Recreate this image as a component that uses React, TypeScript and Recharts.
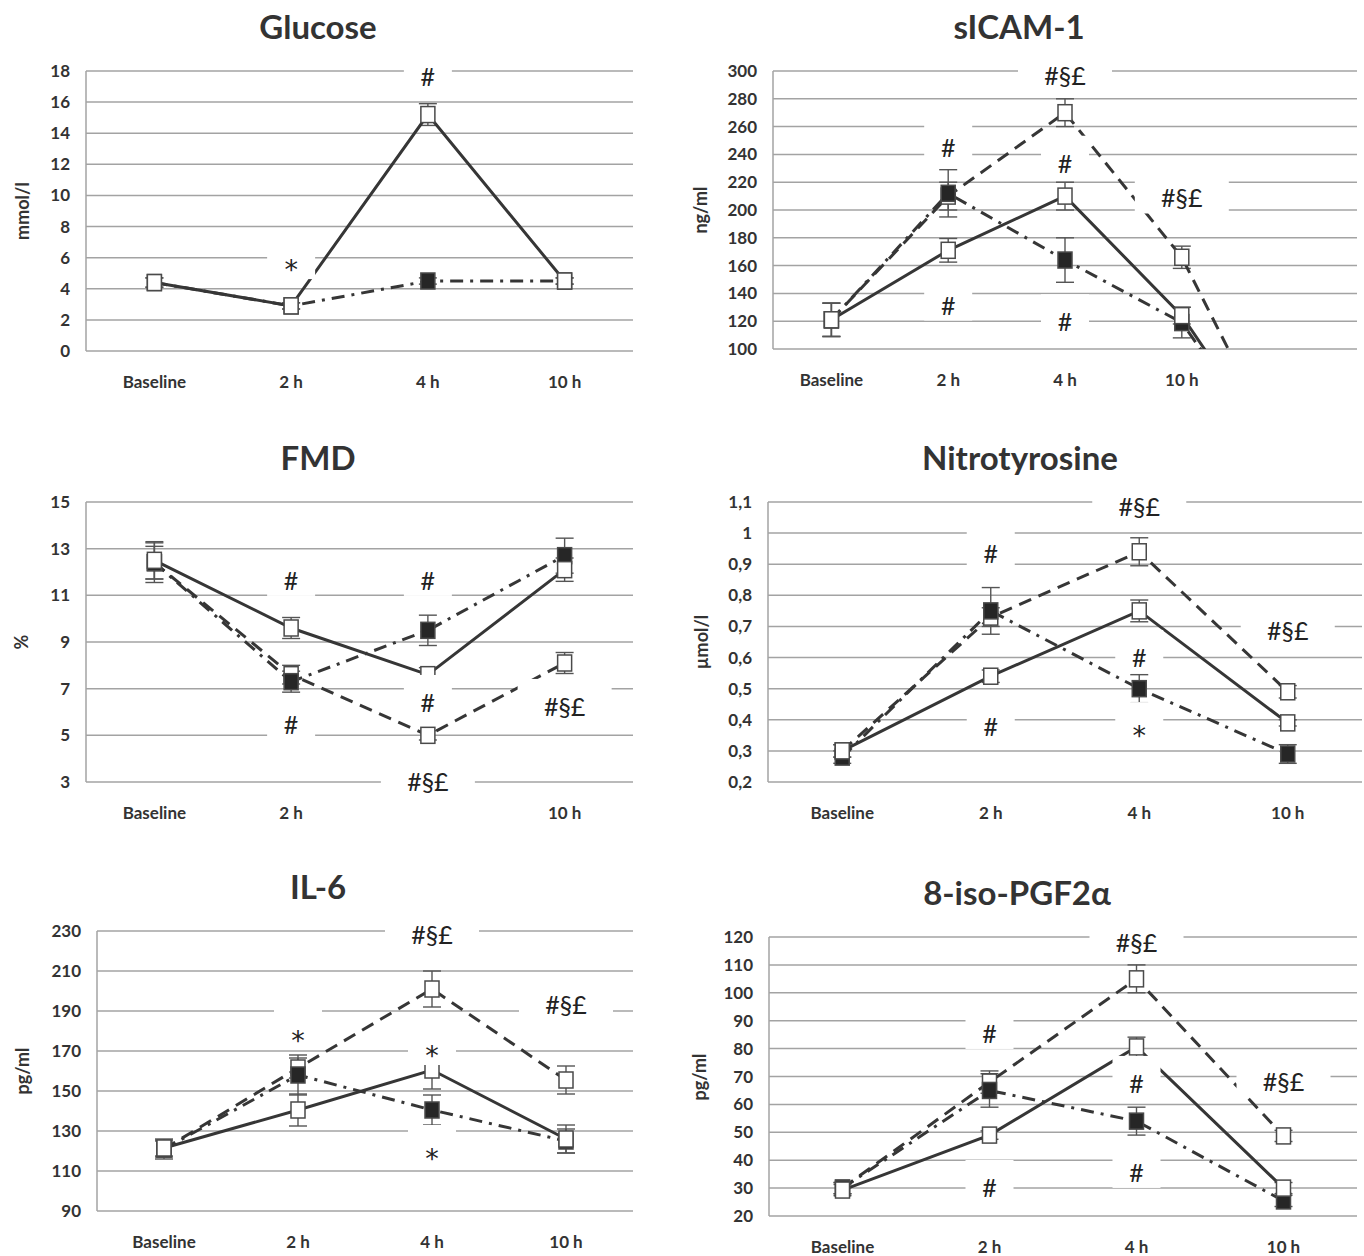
import React from 'react';
import { LineChart, Line, XAxis, YAxis, CartesianGrid, ErrorBar, ReferenceDot } from 'recharts';

// time points
const times = ['Baseline', '2 h', '4 h', '10 h'];
const sicamTimes = ['Baseline', '2 h', '4 h', '10 h', ''];
const fmdTimeLabels = ['Baseline', '2 h', '', '10 h'];

// Glucose, mmol/l
const glucoseTicks = [0, 2, 4, 6, 8, 10, 12, 14, 16, 18];
const glucoseSolid = [4.4, 2.9, 15.2, 4.5];
const glucoseSolidErr = [0.3, 0.2, 0.7, 0.2];
const glucoseDashDot = [4.4, 2.9, 4.5, 4.5];
const glucoseDashDotErr = [0.3, 0.2, 0.2, 0.2];
const glucoseNotes = [
  { cat: '4 h', value: 17.7, text: '#' },
  { cat: '2 h', value: 5.65, text: '*' },
];

// sICAM-1, ng/ml (the lines run on to an empty fifth slot and drop off the bottom)
const sicamTicks = [100, 120, 140, 160, 180, 200, 220, 240, 260, 280, 300];
const sicamSolid = [121, 171, 210, 124, 0];
const sicamSolidErr = [12, 8.5, 10, 6, null];
const sicamDashed = [121, 210, 270, 166, 0];
const sicamDashedErr = [12, 10, 10, 8, null];
const sicamDashDot = [121, 212, 164, 119, 0];
const sicamDashDotErr = [12, 17, 16, 11, null];
const sicamNotes = [
  { cat: '4 h', value: 297, text: '#§£' },
  { cat: '2 h', value: 245, text: '#' },
  { cat: '4 h', value: 234, text: '#' },
  { cat: '10 h', value: 209, text: '#§£' },
  { cat: '2 h', value: 132, text: '#' },
  { cat: '4 h', value: 120, text: '#' },
];

// FMD, %
const fmdTicks = [3, 5, 7, 9, 11, 13, 15];
const fmdSolid = [12.5, 9.6, 7.6, 12.1];
const fmdSolidErr = [0.8, 0.45, 0.3, 0.5];
const fmdDashed = [12.4, 7.6, 5.0, 8.1];
const fmdDashedErr = [0.7, 0.4, 0.2, 0.45];
const fmdDashDot = [12.4, 7.3, 9.5, 12.7];
const fmdDashDotErr = [0.85, 0.45, 0.65, 0.75];
const fmdNotes = [
  { cat: '2 h', value: 11.66, text: '#' },
  { cat: '4 h', value: 11.66, text: '#' },
  { cat: '4 h', value: 6.43, text: '#' },
  { cat: '2 h', value: 5.49, text: '#' },
  { cat: '4 h', value: 3.04, text: '#§£' },
  { cat: '10 h', value: 6.26, text: '#§£' },
];

// Nitrotyrosine, µmol/l
const nitroTicks = [0.2, 0.3, 0.4, 0.5, 0.6, 0.7, 0.8, 0.9, 1, 1.1];
const nitroSolid = [0.3, 0.54, 0.75, 0.39];
const nitroSolidErr = [0.02, 0.02, 0.035, 0.01];
const nitroDashed = [0.3, 0.73, 0.94, 0.49];
const nitroDashedErr = [0.02, 0.03, 0.045, 0.02];
const nitroDashDot = [0.28, 0.75, 0.5, 0.29];
const nitroDashDotErr = [0.02, 0.075, 0.045, 0.03];
const nitroNotes = [
  { cat: '4 h', value: 1.087, text: '#§£' },
  { cat: '2 h', value: 0.936, text: '#' },
  { cat: '10 h', value: 0.689, text: '#§£' },
  { cat: '4 h', value: 0.602, text: '#' },
  { cat: '2 h', value: 0.38, text: '#' },
  { cat: '4 h', value: 0.37, text: '*' },
];

// IL-6, pg/ml
const il6Ticks = [90, 110, 130, 150, 170, 190, 210, 230];
const il6Solid = [121.5, 140.5, 160.5, 126];
const il6SolidErr = [4, 8, 9.5, 7];
const il6Dashed = [121, 161.5, 201, 155.5];
const il6DashedErr = [4, 5, 9, 7];
const il6DashDot = [121, 158, 140.5, 125];
const il6DashDotErr = [5, 10, 7.5, 6];
const il6Notes = [
  { cat: '4 h', value: 228.5, text: '#§£' },
  { cat: '10 h', value: 193.5, text: '#§£' },
  { cat: '2 h', value: 178.5, text: '*' },
  { cat: '4 h', value: 171, text: '*' },
  { cat: '4 h', value: 119.5, text: '*' },
];

// 8-iso-PGF2a, pg/ml
const isoTicks = [20, 30, 40, 50, 60, 70, 80, 90, 100, 110, 120];
const isoSolid = [29.3, 49, 80.6, 30];
const isoSolidErr = [2, 1.5, 3.5, 2];
const isoDashed = [30, 68, 105, 48.7];
const isoDashedErr = [2, 4, 5, 2];
const isoDashDot = [30, 65, 54, 25.4];
const isoDashDotErr = [2, 6, 5, 2];
const isoNotes = [
  { cat: '4 h', value: 118.2, text: '#§£' },
  { cat: '2 h', value: 85.6, text: '#' },
  { cat: '4 h', value: 67.7, text: '#' },
  { cat: '10 h', value: 68.4, text: '#§£' },
  { cat: '4 h', value: 35.8, text: '#' },
  { cat: '2 h', value: 30.4, text: '#' },
];

type LineKind = 'solid' | 'dashed' | 'dashdot';
interface SeriesDef { key: LineKind; values: (number | null)[]; errors: (number | null)[] }
interface Note { cat: string; value: number; text: string }
interface PanelDef {
  title: string;
  unit: string;
  cats: string[];
  catLabels: string[];
  ticks: number[];
  comma?: boolean;
  series: SeriesDef[];
  notes: Note[];
  frame: { x: number; y: number; w: number; h: number };
  plot: { left: number; top: number; right: number; bottom: number };
  titleX: number;
  titleY: number;
  unitX: number;
}

const INK = '#333';
const FONT = 'Lato, "Open Sans", sans-serif';

const kindStyle: Record<LineKind, { dash?: string; filled: boolean }> = {
  solid: { dash: undefined, filled: false },
  dashed: { dash: '13 8', filled: false },
  dashdot: { dash: '13 7 3 7', filled: true },
};

const makeDot = (filled: boolean) => (props: any) => {
  const { cx, cy, index, payload, value } = props;
  if (cx == null || cy == null || value == null || payload?.cat === '') return <g key={`d${index}`} />;
  return (
    <rect
      key={`d${index}`}
      x={cx - 7}
      y={cy - 8}
      width={14}
      height={16}
      fill={filled ? '#262626' : '#ffffff'}
      stroke="#4a4a4a"
      strokeWidth={1.5}
    />
  );
};

const noteShape = (text: string) => (props: any) => {
  const { cx, cy } = props;
  const w = text.length > 1 ? 94 : 48;
  const star = text === '*';
  return (
    <g>
      <rect x={cx - w / 2} y={cy - 27} width={w} height={43} fill="#ffffff" />
      <text
        x={cx}
        y={cy}
        dy={star ? 6 : 0}
        textAnchor="middle"
        dominantBaseline="central"
        fontFamily={star ? '"DejaVu Sans", sans-serif' : FONT}
        fontSize={star ? 27 : 25}
        fill="#222"
      >
        {text}
      </text>
    </g>
  );
};

const panels: PanelDef[] = [
  {
    title: 'Glucose', unit: 'mmol/l', cats: times, catLabels: times, ticks: glucoseTicks,
    series: [
      { key: 'dashdot', values: glucoseDashDot, errors: glucoseDashDotErr },
      { key: 'solid', values: glucoseSolid, errors: glucoseSolidErr },
    ],
    notes: glucoseNotes,
    frame: { x: 0, y: 0, w: 682, h: 430 },
    plot: { left: 86, top: 71, right: 633, bottom: 351 },
    titleX: 318, titleY: 26, unitX: 22,
  },
  {
    title: 'sICAM-1', unit: 'ng/ml', cats: sicamTimes, catLabels: sicamTimes, ticks: sicamTicks,
    series: [
      { key: 'dashed', values: sicamDashed, errors: sicamDashedErr },
      { key: 'dashdot', values: sicamDashDot, errors: sicamDashDotErr },
      { key: 'solid', values: sicamSolid, errors: sicamSolidErr },
    ],
    notes: sicamNotes,
    frame: { x: 682, y: 0, w: 682, h: 430 },
    plot: { left: 773, top: 71, right: 1357, bottom: 349 },
    titleX: 1019, titleY: 26, unitX: 700,
  },
  {
    title: 'FMD', unit: '%', cats: times, catLabels: fmdTimeLabels, ticks: fmdTicks,
    series: [
      { key: 'dashed', values: fmdDashed, errors: fmdDashedErr },
      { key: 'dashdot', values: fmdDashDot, errors: fmdDashDotErr },
      { key: 'solid', values: fmdSolid, errors: fmdSolidErr },
    ],
    notes: fmdNotes,
    frame: { x: 0, y: 430, w: 682, h: 430 },
    plot: { left: 86, top: 502, right: 633, bottom: 782 },
    titleX: 318, titleY: 457, unitX: 21,
  },
  {
    title: 'Nitrotyrosine', unit: 'µmol/l', cats: times, catLabels: times, ticks: nitroTicks, comma: true,
    series: [
      { key: 'dashed', values: nitroDashed, errors: nitroDashedErr },
      { key: 'dashdot', values: nitroDashDot, errors: nitroDashDotErr },
      { key: 'solid', values: nitroSolid, errors: nitroSolidErr },
    ],
    notes: nitroNotes,
    frame: { x: 682, y: 430, w: 682, h: 430 },
    plot: { left: 768, top: 502, right: 1362, bottom: 782 },
    titleX: 1020, titleY: 457, unitX: 701,
  },
  {
    title: 'IL-6', unit: 'pg/ml', cats: times, catLabels: times, ticks: il6Ticks,
    series: [
      { key: 'dashed', values: il6Dashed, errors: il6DashedErr },
      { key: 'dashdot', values: il6DashDot, errors: il6DashDotErr },
      { key: 'solid', values: il6Solid, errors: il6SolidErr },
    ],
    notes: il6Notes,
    frame: { x: 0, y: 860, w: 682, h: 396 },
    plot: { left: 97, top: 931, right: 633, bottom: 1211 },
    titleX: 318, titleY: 886, unitX: 22,
  },
  {
    title: '8-iso-PGF2α', unit: 'pg/ml', cats: times, catLabels: times, ticks: isoTicks,
    series: [
      { key: 'dashed', values: isoDashed, errors: isoDashedErr },
      { key: 'dashdot', values: isoDashDot, errors: isoDashDotErr },
      { key: 'solid', values: isoSolid, errors: isoSolidErr },
    ],
    notes: isoNotes,
    frame: { x: 682, y: 860, w: 682, h: 396 },
    plot: { left: 769, top: 937, right: 1357, bottom: 1216 },
    titleX: 1017, titleY: 892, unitX: 699,
  },
];

const Y_W = 60;
const X_H = 40;

function Panel({ p }: { p: PanelDef }) {
  const data = p.cats.map((cat, i) => {
    const row: Record<string, any> = { cat };
    p.series.forEach((s) => {
      row[s.key] = s.values[i];
      row[s.key + 'Err'] = s.errors[i];
    });
    return row;
  });
  const margin = {
    top: p.plot.top - p.frame.y,
    left: p.plot.left - p.frame.x - Y_W,
    right: p.frame.x + p.frame.w - p.plot.right,
    bottom: p.frame.y + p.frame.h - p.plot.bottom - X_H,
  };
  const midY = (p.plot.top + p.plot.bottom) / 2;
  const lo = p.ticks[0];
  const hi = p.ticks[p.ticks.length - 1];

  return (
    <>
      <div style={{ position: 'absolute', left: p.frame.x, top: p.frame.y }}>
        <LineChart width={p.frame.w} height={p.frame.h} data={data} margin={margin}>
          <CartesianGrid vertical={false} stroke="#a3a3a3" strokeWidth={1.5} />
          <XAxis
            dataKey="cat"
            type="category"
            scale="band"
            interval={0}
            height={X_H}
            tickLine={false}
            axisLine={false}
            tickSize={0}
            tickMargin={25}
            tick={{ fill: INK, fontSize: 17, fontWeight: 700, fontFamily: FONT }}
            tickFormatter={(_v: any, i: number) => p.catLabels[i]}
          />
          <YAxis
            type="number"
            domain={[lo, hi]}
            ticks={p.ticks}
            allowDataOverflow
            interval={0}
            width={Y_W}
            tickLine={false}
            tickSize={0}
            tickMargin={16}
            axisLine={{ stroke: '#a3a3a3', strokeWidth: 1.5 }}
            tick={{ fill: INK, fontSize: 17, fontWeight: 700, fontFamily: FONT }}
            tickFormatter={(v: number) => (p.comma ? String(v).replace('.', ',') : String(v))}
          />
          {p.series.map((s) => (
            <Line
              key={s.key}
              type="linear"
              dataKey={s.key}
              stroke="#363636"
              strokeWidth={3}
              strokeDasharray={kindStyle[s.key].dash}
              dot={makeDot(kindStyle[s.key].filled)}
              activeDot={false}
              isAnimationActive={false}
            >
              <ErrorBar dataKey={s.key + 'Err'} width={9} strokeWidth={1.4} stroke="#555" direction="y" />
            </Line>
          ))}
          {p.notes.map((n, i) => (
            <ReferenceDot
              key={`n${i}`}
              x={n.cat}
              y={n.value}
              r={0}
              ifOverflow="visible"
              shape={noteShape(n.text)}
              zIndex={1800}
            />
          ))}
        </LineChart>
      </div>
      <div
        style={{
          position: 'absolute', left: p.titleX, top: p.titleY, transform: 'translate(-50%, -50%)',
          fontFamily: FONT, fontWeight: 700, fontSize: 33, color: '#333', whiteSpace: 'nowrap',
        }}
      >
        {p.title}
      </div>
      <div
        style={{
          position: 'absolute', left: p.unitX, top: midY, transform: 'translate(-50%, -50%) rotate(-90deg)',
          fontFamily: FONT, fontWeight: 700, fontSize: 18, color: '#333', whiteSpace: 'nowrap',
        }}
      >
        {p.unit}
      </div>
    </>
  );
}

export default function App() {
  return (
    <div style={{ position: 'absolute', left: 0, top: 0, width: 1364, height: 1256, background: '#fff', overflow: 'hidden' }}>
      {panels.map((p) => (
        <Panel key={p.title} p={p} />
      ))}
    </div>
  );
}
